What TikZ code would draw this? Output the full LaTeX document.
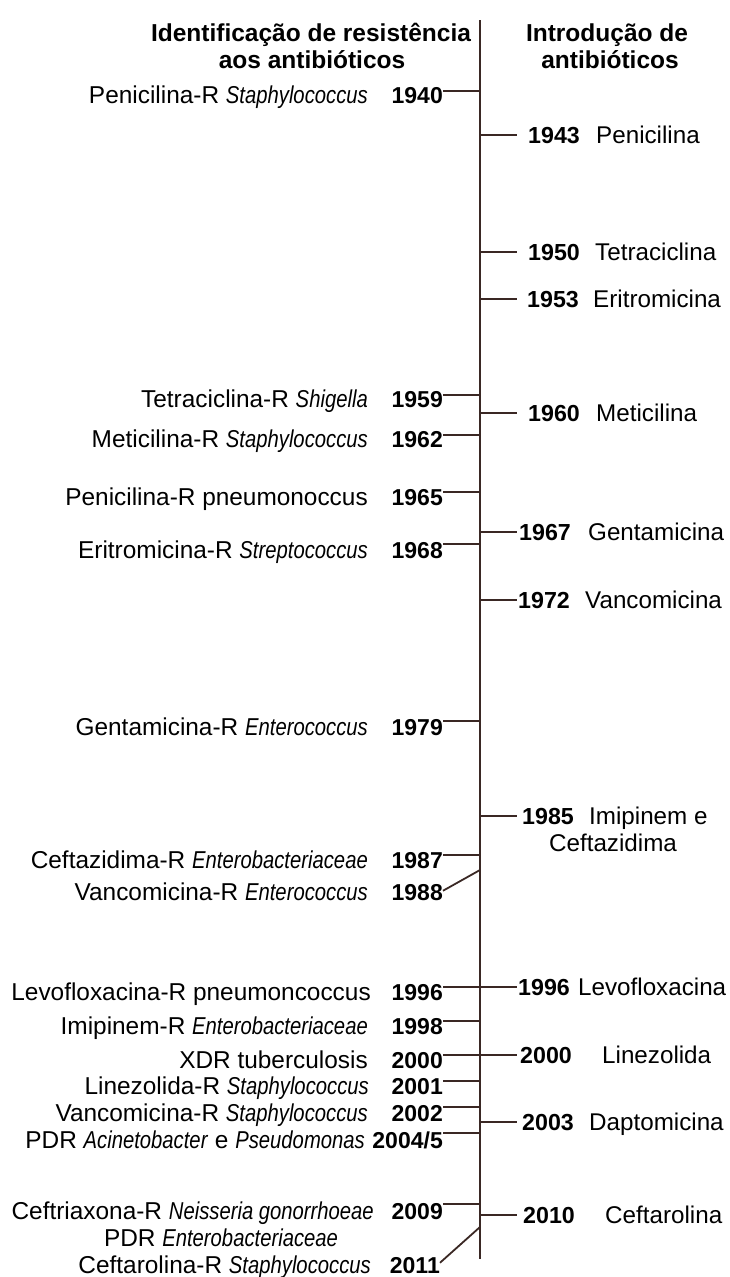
\documentclass[tikz,border=0pt]{standalone}
\usepackage{fontspec}
\setmainfont{Liberation Sans}[ItalicFeatures={FakeStretch=0.83}]
\definecolor{lc}{RGB}{58,40,36}
\newcommand\lentry[6]{%
  \node[lyr] (y#1) at (443,#4) {#3};
  \node[lbl] (l#1) at (#6,#4) {#2};
  \coordinate (a#1) at (480,#5);
  \draw[ln] (a#1) -- (a#1 -| y#1.east);
}
\newcommand\rentry[6]{%
  \coordinate (b#1) at (480,#4-8);
  \node[ryr] (r#1) at (#5,#4) {#2};
  \node[rlbl] (n#1) at (#6,#4) {#3};
  \draw[ln] (b#1) -- ++(37,0);
}
\begin{document}
\begin{tikzpicture}[x=1pt,y=-1pt,
  ln/.style={draw=lc, line width=1.8pt},
  lbl/.style={anchor=base east, inner sep=0pt, font=\fontsize{24.4}{28}\selectfont},
  lyr/.style={anchor=base east, inner sep=0pt, font=\fontsize{23}{28}\selectfont\bfseries},
  ryr/.style={anchor=base west, inner sep=0pt, font=\fontsize{23.2}{28}\selectfont\bfseries},
  rlbl/.style={anchor=base west, inner sep=0pt, font=\fontsize{24.2}{28}\selectfont},
  ttl/.style={anchor=base, inner sep=0pt, font=\fontsize{24.5}{28}\selectfont\bfseries}]
\useasboundingbox (0,0) rectangle (729,1277);
% titles
\node[ttl] (tl1) at (311,41) {Identificação de resistência};
\node[ttl] (tl2) at (312,68) {aos antibióticos};
\node[ttl] (tr1) at (607,41) {Introdução de};
\node[ttl] (tr2) at (610,68) {antibióticos};
% axis
\coordinate (top) at (480,20);
\coordinate (bot) at (480,1259);
\draw[ln] (top) -- (bot);
% left entries
\lentry{40}{Penicilina-R \textit{Staphylococcus}}{1940}{103}{91}{368}
\lentry{59}{Tetraciclina-R \textit{Shigella}}{1959}{407}{395}{368}
\lentry{62}{Meticilina-R \textit{Staphylococcus}}{1962}{447}{435}{368}
\lentry{65}{Penicilina-R pneumonoccus}{1965}{505}{492}{368}
\lentry{68}{Eritromicina-R \textit{Streptococcus}}{1968}{558}{544}{368}
\lentry{79}{Gentamicina-R \textit{Enterococcus}}{1979}{735}{721}{368}
\lentry{87}{Ceftazidima-R \textit{Enterobacteriaceae}}{1987}{868}{855}{368}
\lentry{96}{Levofloxacina-R pneumoncoccus}{1996}{1000}{987}{371}
\lentry{98}{Imipinem-R \textit{Enterobacteriaceae}}{1998}{1034}{1021}{368}
\lentry{00}{XDR tuberculosis}{2000}{1068}{1055}{368}
\lentry{01}{Linezolida-R \textit{Staphylococcus}}{2001}{1094}{1081}{369}
\lentry{02}{Vancomicina-R \textit{Staphylococcus}}{2002}{1121}{1107}{368}
\lentry{04}{PDR \textit{Acinetobacter} e \textit{Pseudomonas}}{2004/5}{1148}{1133}{365}
\lentry{09}{Ceftriaxona-R \textit{Neisseria gonorrhoeae}}{2009}{1219}{1204}{374}
% 1988 (slanted)
\node[lyr] (y88) at (443,900) {1988};
\node[lbl] (l88) at (368,900) {Vancomicina-R \textit{Enterococcus}};
\coordinate (a88) at (480,870);
\draw[ln] (a88) -- ([yshift=-7pt]y88.north east);
% 2011 (slanted)
\node[lbl, anchor=base] (lpdr) at (221,1246) {PDR \textit{Enterobacteriaceae}};
\node[lyr] (y11) at (440,1273) {2011};
\node[lbl] (l11) at (371,1273) {Ceftarolina-R \textit{Staphylococcus}};
\coordinate (a11) at (480,1227);
\draw[ln] (a11) -- ([yshift=-6pt]y11.north east);
% right entries
\rentry{43}{1943}{Penicilina}{143}{528}{596}
\rentry{50}{1950}{Tetraciclina}{260}{528}{595}
\rentry{53}{1953}{Eritromicina}{307}{527}{593}
\rentry{60}{1960}{Meticilina}{421}{528}{596}
\rentry{67}{1967}{Gentamicina}{540}{519}{588}
\rentry{72}{1972}{Vancomicina}{608}{518}{585}
\rentry{85}{1985}{Imipinem e}{824}{522}{589}
\node[rlbl, anchor=base] (n85b) at (613,851) {Ceftazidima};
\rentry{96}{1996}{Levofloxacina}{995}{518}{578}
\rentry{00}{2000}{Linezolida}{1063}{520}{602}
\rentry{03}{2003}{Daptomicina}{1130}{522}{589}
\rentry{10}{2010}{Ceftarolina}{1223}{523}{605}
\end{tikzpicture}
\end{document}
